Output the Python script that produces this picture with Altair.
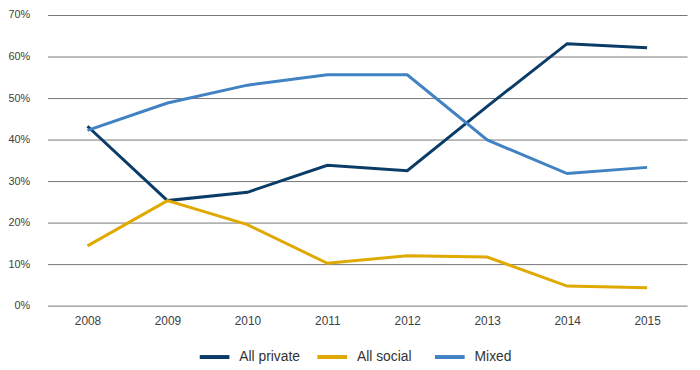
import altair as alt
import pandas as pd

years = ["2008", "2009", "2010", "2011", "2012", "2013", "2014", "2015"]
all_private = [43.2, 25.3, 27.3, 33.8, 32.5, 48.0, 63.1, 62.1]
all_social = [14.4, 25.3, 19.5, 10.2, 12.0, 11.7, 4.7, 4.3]
mixed = [42.2, 48.8, 53.1, 55.6, 55.6, 39.9, 31.8, 33.3]
series_names = ["All private", "All social", "Mixed"]
series_colors = ["#0B3C68", "#E0A900", "#4182C3"]
y_ticks = [0, 0.1, 0.2, 0.3, 0.4, 0.5, 0.6, 0.7]

rows = []
for name, vals in zip(series_names, [all_private, all_social, mixed]):
    for yr, v in zip(years, vals):
        rows.append({"Year": yr, "Series": name, "Value": v / 100})
df = pd.DataFrame(rows)

FONT = "Arial"

chart = (
    alt.Chart(df)
    .mark_line(strokeWidth=3)
    .encode(
        x=alt.X(
            "Year:O",
            sort=years,
            scale=alt.Scale(type="point", padding=0.5),
            axis=alt.Axis(
                title=None,
                labelAngle=0,
                domain=False,
                ticks=False,
                grid=False,
                labelPadding=10,
                labelFontSize=12,
                labelColor="#404040",
                labelFont=FONT,
            ),
        ),
        y=alt.Y(
            "Value:Q",
            scale=alt.Scale(domain=[0, 0.7], nice=False),
            axis=alt.Axis(
                title=None,
                format=".0%",
                values=y_ticks,
                domain=False,
                ticks=False,
                grid=True,
                gridColor="#777777",
                gridWidth=1,
                labelPadding=18,
                labelFontSize=11,
                labelColor="#404040",
                labelFont=FONT,
            ),
        ),
        color=alt.Color(
            "Series:N",
            sort=series_names,
            scale=alt.Scale(domain=series_names, range=series_colors),
            legend=alt.Legend(
                title=None,
                orient="none",
                direction="horizontal",
                legendX=152,
                legendY=329,
                symbolType="stroke",
                symbolSize=900,
                symbolStrokeWidth=4,
                labelFontSize=14,
                labelFont=FONT,
                labelColor="#333333",
                labelOffset=8,
                columnPadding=9,
                gridAlign="all",
            ),
        ),
    )
    .properties(
        width=647,
        height=294,
        autosize=alt.AutoSizeParams(type="none"),
        padding={"left": 40, "top": 5, "right": 5, "bottom": 60},
    )
    .configure_view(stroke=None)
)

chart.save("out.html", embed_options={"renderer": "svg", "actions": False})
